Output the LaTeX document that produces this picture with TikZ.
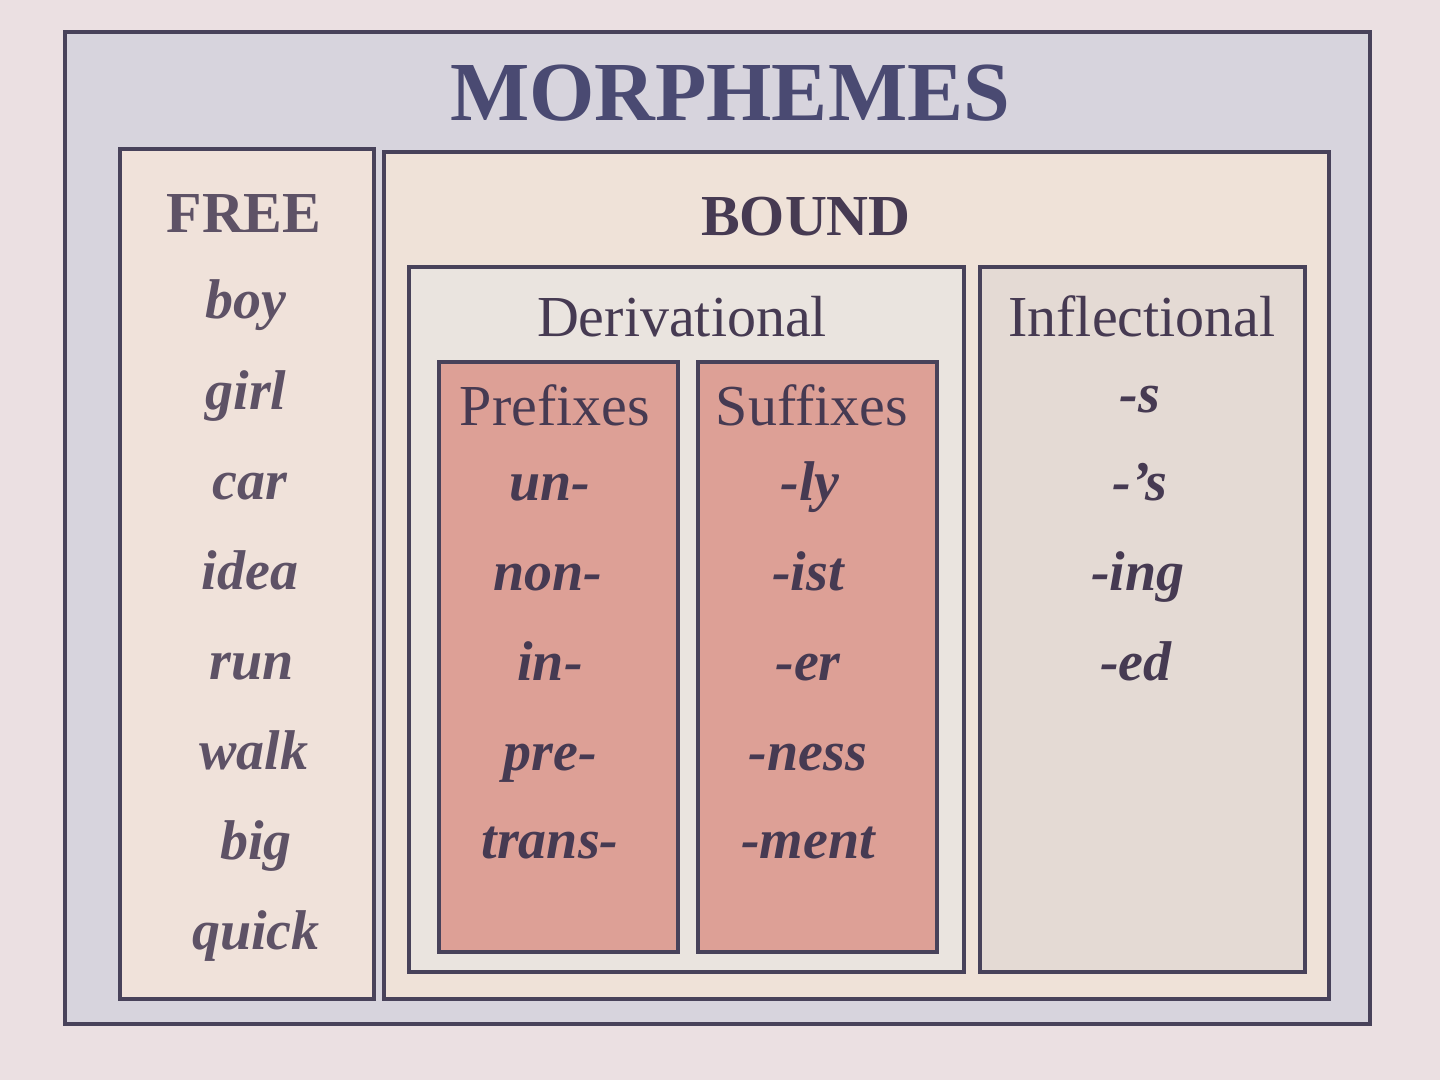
\documentclass[tikz,border=0pt]{standalone}
\usepackage{fontspec}
\setmainfont{Liberation Serif}
\definecolor{pagebg}{HTML}{EBE0E2}
\definecolor{outerfill}{HTML}{D7D4DD}
\definecolor{freefill}{HTML}{F0E2DA}
\definecolor{boundfill}{HTML}{EFE2D8}
\definecolor{derivfill}{HTML}{EAE4DF}
\definecolor{inflfill}{HTML}{E4DAD4}
\definecolor{affixfill}{HTML}{DDA096}
\definecolor{edge}{HTML}{48425A}
\definecolor{titlecol}{HTML}{4A4A72}
\definecolor{freecol}{HTML}{5E5266}
\definecolor{textcol}{HTML}{463A52}
\tikzset{
  panel/.style={draw=edge, line width=3.5pt, anchor=north west, inner sep=0pt},
  word/.style={anchor=base, inner sep=0pt, font=\fontsize{56}{60}\selectfont\bfseries\itshape, text=textcol},
  head/.style={anchor=base, inner sep=0pt, font=\fontsize{58}{60}\selectfont, text=textcol},
}
\begin{document}
\begin{tikzpicture}[x=1pt,y=-1pt]
\useasboundingbox[fill=pagebg] (0,0) rectangle (1440,1080);
% boxes
\node[panel, fill=outerfill, minimum width=1305pt, minimum height=992pt] (outer) at (63,30) {};
\node[panel, fill=freefill, minimum width=254pt, minimum height=850pt] (free) at (118,147) {};
\node[panel, fill=boundfill, minimum width=945pt, minimum height=847pt] (bound) at (382,150) {};
\node[panel, fill=derivfill, minimum width=555pt, minimum height=705pt] (deriv) at (407,265) {};
\node[panel, fill=inflfill, minimum width=325pt, minimum height=705pt] (infl) at (978,265) {};
\node[panel, fill=affixfill, minimum width=239pt, minimum height=590pt] (pref) at (437,360) {};
\node[panel, fill=affixfill, minimum width=239pt, minimum height=590pt] (suff) at (696,360) {};
% headings
\node[anchor=base, inner sep=0pt, font=\fontsize{84}{88}\selectfont\bfseries, text=titlecol] (title) at (730,120) {MORPHEMES};
\node[head, font=\fontsize{58}{60}\selectfont\bfseries, text=freecol] (hfree) at (244,232) {FREE};
\node[head, font=\fontsize{58}{60}\selectfont\bfseries] (hbound) at (806,235) {BOUND};
\node[head] (hderiv) at (682,336) {Derivational};
\node[head] (hinfl) at (1142,336) {Inflectional};
\node[head] (hpref) at (555,425) {Prefixes};
\node[head] (hsuff) at (812,425) {Suffixes};
% free words
\node[word, text=freecol] (w1) at (246,318) {boy};
\node[word, text=freecol] (w2) at (246,409) {girl};
\node[word, text=freecol] (w3) at (250,499) {car};
\node[word, text=freecol] (w4) at (250,589) {idea};
\node[word, text=freecol] (w5) at (252,679) {run};
\node[word, text=freecol] (w6) at (254,769) {walk};
\node[word, text=freecol] (w7) at (256,859) {big};
\node[word, text=freecol] (w8) at (256,949) {quick};
% prefixes
\node[word] (p1) at (550,500) {un-};
\node[word] (p2) at (548,590) {non-};
\node[word] (p3) at (550,680) {in-};
\node[word] (p4) at (550,770) {pre-};
\node[word] (p5) at (550,858) {trans-};
% suffixes
\node[word] (s1) at (810,500) {-ly};
\node[word] (s2) at (808,590) {-ist};
\node[word] (s3) at (808,680) {-er};
\node[word] (s4) at (808,770) {-ness};
\node[word] (s5) at (808,858) {-ment};
% inflectional
\node[word] (i1) at (1140,412) {-s};
\node[word] (i2) at (1140,500) {-’s};
\node[word] (i3) at (1138,590) {-ing};
\node[word] (i4) at (1136,680) {-ed};
\end{tikzpicture}
\end{document}
